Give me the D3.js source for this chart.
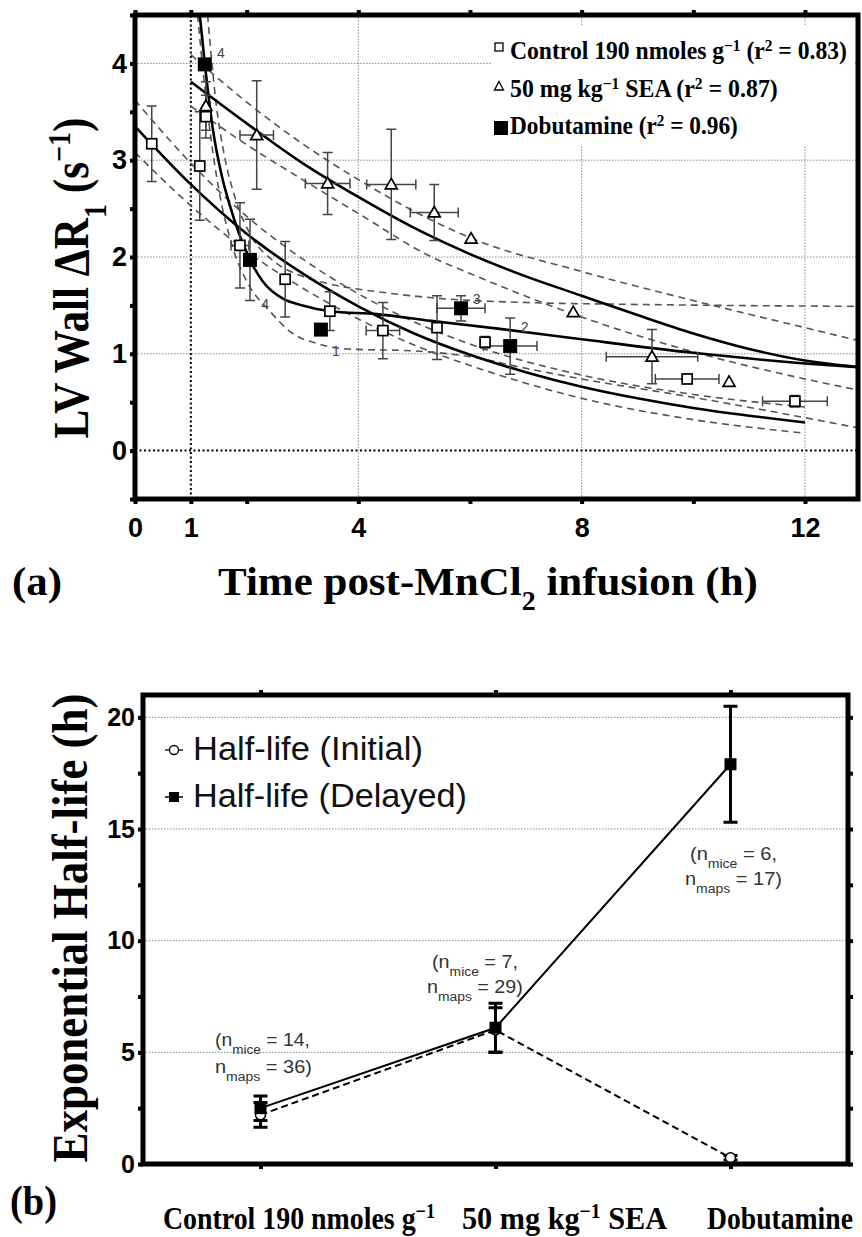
<!DOCTYPE html>
<html><head><meta charset="utf-8">
<script src="https://cdn.jsdelivr.net/npm/d3@7/dist/d3.min.js"></script>
<style>body{margin:0;background:#fff;}svg{display:block;}</style>
</head><body>
<svg id="chart" width="862" height="1237"></svg>
<script>
// ================= Panel (a) data =================
const ctrlTime = [0.3, 1.16, 1.27, 1.88, 2.69, 3.49, 4.44, 5.41, 6.27, 9.89, 11.82];
const ctrlVal  = [3.17, 2.94, 3.45, 2.12, 1.77, 1.44, 1.24, 1.27, 1.12, 0.74, 0.51];
const ctrlErrY = [0.39, 0.56, 0.22, 0.44, 0.39, 0.2, 0.29, 0.33, 0.06, 0, 0.06];
const ctrlErrX = [0, 0, 0, 0.16, 0, 0, 0.3, 0, 0, 0.57, 0.58];

const seaTime = [1.27, 2.18, 3.45, 4.59, 5.36, 6.02, 7.85, 9.26, 10.64];
const seaVal  = [3.56, 3.26, 2.76, 2.75, 2.46, 2.19, 1.43, 0.97, 0.71];
const seaErrY = [0.25, 0.56, 0.32, 0.57, 0.29, 0, 0, 0.28, 0];
const seaErrX = [0, 0.3, 0.4, 0.44, 0.43, 0, 0, 0.82, 0];

const dobTime = [1.25, 2.06, 3.33, 5.84, 6.72];
const dobVal  = [3.99, 1.97, 1.25, 1.47, 1.08];
const dobErrY = [0, 0.42, 0, 0.13, 0.29];
const dobErrX = [0, 0, 0, 0.43, 0.48];

// fitted curves
const ctrlFitT = [0, 1, 2, 3, 4, 5, 6, 7, 8, 9, 10, 11, 12];
const ctrlFitV = [3.35, 2.75, 2.24, 1.83, 1.49, 1.21, 0.99, 0.81, 0.66, 0.54, 0.44, 0.36, 0.29];
const seaFitT  = [1, 2, 3, 4, 5, 6, 7, 8, 9, 10, 11, 12, 13];
const seaFitV  = [3.81, 3.38, 2.97, 2.62, 2.3, 2.03, 1.8, 1.6, 1.4, 1.21, 1.05, 0.93, 0.86];
const dobFitT  = [1.16, 1.25, 1.4, 1.55, 1.7, 2.06, 2.3, 2.65, 3, 3.5, 4.33, 5.3, 6.5, 8, 10, 12, 13];
const dobFitV  = [4.5, 4.0, 3.3, 2.85, 2.53, 1.97, 1.74, 1.57, 1.5, 1.44, 1.41, 1.34, 1.26, 1.15, 1.01, 0.9, 0.86];

// confidence bands (dashed)
const ctrlBandT   = [0, 1, 2, 3, 4, 5, 6, 8, 10, 12];
const ctrlBandUpV = [3.62, 2.97, 2.42, 1.98, 1.62, 1.33, 1.1, 0.78, 0.58, 0.45];
const ctrlBandLoV = [3.08, 2.53, 2.06, 1.68, 1.36, 1.09, 0.88, 0.54, 0.32, 0.18];
const seaBandT    = [1, 2, 3, 4, 5.28, 6, 8, 10, 12, 13];
const seaBandUpV  = [4.09, 3.6, 3.17, 2.8, 2.39, 2.2, 1.85, 1.55, 1.27, 1.13];
const seaBandLoV  = [3.56, 3.16, 2.8, 2.45, 2.01, 1.83, 1.38, 1.02, 0.74, 0.62];
const dobBandUpT  = [1.3, 1.45, 1.6, 1.8, 2.1, 2.5, 3, 3.5, 4.5, 5.5, 7, 9, 13];
const dobBandUpV  = [4.5, 3.6, 3.05, 2.6, 2.2, 1.95, 1.8, 1.72, 1.63, 1.57, 1.53, 1.51, 1.49];
const dobBandLoT  = [1.12, 1.3, 1.5, 1.75, 2.05, 2.4, 2.8, 3.3, 3.8, 5, 6, 7, 8, 10, 12, 13];
const dobBandLoV  = [4.5, 3.5, 2.7, 2.1, 1.7, 1.45, 1.22, 1.1, 1.05, 1.03, 0.97, 0.85, 0.74, 0.55, 0.34, 0.23];

const curveLabelText = ["4", "4", "1", "3", "2"];
const curveLabelT = [1.54, 2.33, 3.6, 6.12, 6.98];
const curveLabelV = [4.11, 1.51, 1.03, 1.57, 1.28];

const xTicksA = [0, 1, 2, 4, 6, 8, 10, 12];
const xTickLabelsA = [0, 1, 4, 8, 12];
const yTicksA = [-0.5, 0, 0.5, 1, 1.5, 2, 2.5, 3, 3.5, 4, 4.5];
const yTickLabelsA = [0, 1, 2, 3, 4];
const gridXA = [4, 8, 12];
const gridYA = [1, 2, 3, 4];
const legendA = ["Control 190 nmoles g⁻¹ (r² = 0.83)", "50 mg kg⁻¹ SEA (r² = 0.87)", "Dobutamine (r² = 0.96)"];

// ================= Panel (b) data =================
const categories = ["Control 190 nmoles g⁻¹", "50 mg kg⁻¹ SEA", "Dobutamine"];
const initialHalfLife = [2.2, 6.0, 0.28];
const initialErr      = [0.55, 1.0, 0.1];
const delayedHalfLife = [2.5, 6.1, 17.9];
const delayedErr      = [0.55, 1.1, 2.6];
const sampleNotes = [["(n{mice} = 14,", "n{maps} = 36)"], ["(n{mice} = 7,", "n{maps} = 29)"], ["(n{mice} = 6,", "n{maps} = 17)"]];
const yTicksB = [0, 2.5, 5, 7.5, 10, 12.5, 15, 17.5, 20];
const yTickLabelsB = [0, 5, 10, 15, 20];
const gridYB = [5, 10, 15, 20];
const legendB = ["Half-life (Initial)", "Half-life (Delayed)"];

// ================= helpers =================
const SERIF = "'Liberation Serif','Times New Roman',serif";
const SANS = "'Liberation Sans',Arial,sans-serif";
const svg = d3.select('#chart');
svg.append('rect').attr('width', 862).attr('height', 1237).attr('fill', '#fff');
const defs = svg.append('defs');

function rich(t, str) {
  const re = /\{([^}]+)\}|([⁻¹²]+)|([₁₂]+)/g;
  const supMap = {'⁻': '−', '¹': '1', '²': '2'}, subMap = {'₁': '1', '₂': '2'};
  let last = 0, m;
  while ((m = re.exec(str))) {
    if (m.index > last) t.append('tspan').text(str.slice(last, m.index));
    if (m[1]) t.append('tspan').attr('baseline-shift', 'sub').attr('font-size', '70%').text(m[1]);
    else if (m[2]) t.append('tspan').attr('baseline-shift', 'super').attr('font-size', '65%').text([...m[2]].map(c => supMap[c]).join(''));
    else t.append('tspan').attr('baseline-shift', 'sub').attr('font-size', '65%').text([...m[3]].map(c => subMap[c]).join(''));
    last = re.lastIndex;
  }
  if (last < str.length) t.append('tspan').text(str.slice(last));
  return t;
}
function hText(parent, str, x, y, o) {
  const g = parent.append('g');
  const t = g.append('text').attr('font-family', o.family).attr('font-size', o.size)
    .attr('font-weight', o.weight || 'normal').attr('fill', o.fill || '#000');
  rich(t, str);
  const bb = t.node().getBBox();
  const k = o.width ? o.width / bb.width : 1;
  const off = o.anchor === 'middle' ? -bb.width / 2 : (o.anchor === 'end' ? -bb.width : 0);
  t.attr('x', off - bb.x);
  g.attr('transform', `translate(${x},${y}) scale(${k},1)`);
  return g;
}
function vText(parent, str, baseX, cy, o) {
  const g = parent.append('g');
  const t = g.append('text').attr('font-family', o.family).attr('font-size', o.size)
    .attr('font-weight', o.weight || 'normal').attr('fill', o.fill || '#000');
  rich(t, str);
  const bb = t.node().getBBox();
  t.attr('x', -bb.width / 2 - bb.x);
  g.attr('transform', `translate(${baseX},${cy}) rotate(-90) scale(${o.len / bb.width},${o.sy})`);
  return g;
}
const pairs = (T, V) => T.map((t, i) => [t, V[i]]);
function styleAxis(g, size, weight, family) {
  g.select('.domain').remove();
  g.selectAll('.tick line').attr('stroke', '#000').attr('stroke-width', 4);
  g.selectAll('.tick text').attr('font-size', size).attr('font-weight', weight).attr('font-family', family).attr('fill', '#000');
}

// ================= Panel (a) =================
const xA = d3.scaleLinear().domain([0, 12.95]).range([135, 858]);
const yA = d3.scaleLinear().domain([-0.5, 4.5]).range([499, 15]);
defs.append('clipPath').attr('id', 'clipA').append('rect')
  .attr('x', xA.range()[0]).attr('y', yA.range()[1]).attr('width', xA.range()[1] - xA.range()[0]).attr('height', yA.range()[0] - yA.range()[1]);
const gA = svg.append('g');
const plotA = gA.append('g').attr('clip-path', 'url(#clipA)');

plotA.selectAll('.gy').data(gridYA).join('line')
  .attr('x1', xA.range()[0]).attr('x2', xA.range()[1]).attr('y1', d => yA(d)).attr('y2', d => yA(d))
  .attr('stroke', '#8a8a8a').attr('stroke-width', 1).attr('stroke-dasharray', '1.5,1.5');
plotA.selectAll('.gx').data(gridXA).join('line')
  .attr('y1', yA.range()[0]).attr('y2', yA.range()[1]).attr('x1', d => xA(d)).attr('x2', d => xA(d))
  .attr('stroke', '#8a8a8a').attr('stroke-width', 1).attr('stroke-dasharray', '1.5,1.5');
plotA.append('line').attr('x1', xA(1)).attr('x2', xA(1)).attr('y1', yA.range()[0]).attr('y2', yA.range()[1])
  .attr('stroke', '#000').attr('stroke-width', 2).attr('stroke-dasharray', '2,2.5');
plotA.append('line').attr('x1', xA.range()[0]).attr('x2', xA.range()[1]).attr('y1', yA(0)).attr('y2', yA(0))
  .attr('stroke', '#000').attr('stroke-width', 2).attr('stroke-dasharray', '2,2.5');

const lineA = d3.line().x(d => xA(d[0])).y(d => yA(d[1])).curve(d3.curveMonotoneX);
const bands = [pairs(ctrlBandT, ctrlBandUpV), pairs(ctrlBandT, ctrlBandLoV), pairs(seaBandT, seaBandUpV),
  pairs(seaBandT, seaBandLoV), pairs(dobBandUpT, dobBandUpV), pairs(dobBandLoT, dobBandLoV)];
plotA.selectAll('.band').data(bands).join('path').attr('d', lineA).attr('fill', 'none')
  .attr('stroke', '#555').attr('stroke-width', 1.6).attr('stroke-dasharray', '7,5');
const fits = [pairs(ctrlFitT, ctrlFitV), pairs(seaFitT, seaFitV), pairs(dobFitT, dobFitV)];
plotA.selectAll('.fit').data(fits).join('path').attr('d', lineA).attr('fill', 'none')
  .attr('stroke', '#000').attr('stroke-width', 2.6);

plotA.selectAll('.clab').data(curveLabelText).join('text')
  .attr('x', (d, i) => xA(curveLabelT[i])).attr('y', (d, i) => yA(curveLabelV[i])).attr('dy', '0.35em')
  .attr('text-anchor', 'middle').attr('font-family', SANS).attr('font-size', 14).attr('fill', '#444').text(d => d);

function errBars(g, T, V, EY, EX) {
  const c = 5;
  T.forEach((t, i) => {
    const x = xA(t), y = yA(V[i]);
    if (EY[i] > 0) {
      const y1 = yA(V[i] + EY[i]), y2 = yA(V[i] - EY[i]);
      g.append('path').attr('d', `M${x},${y1}V${y2}M${x - c},${y1}H${x + c}M${x - c},${y2}H${x + c}`);
    }
    if (EX[i] > 0) {
      const x1 = xA(t - EX[i]), x2 = xA(t + EX[i]);
      g.append('path').attr('d', `M${x1},${y}H${x2}M${x1},${y - c}V${y + c}M${x2},${y - c}V${y + c}`);
    }
  });
}
const ebA = plotA.append('g').attr('stroke', '#444').attr('stroke-width', 1.5).attr('fill', 'none');
errBars(ebA, ctrlTime, ctrlVal, ctrlErrY, ctrlErrX);
errBars(ebA, seaTime, seaVal, seaErrY, seaErrX);
errBars(ebA, dobTime, dobVal, dobErrY, dobErrX);

plotA.selectAll('.ctrl').data(ctrlTime).join('rect')
  .attr('x', d => xA(d) - 5).attr('y', (d, i) => yA(ctrlVal[i]) - 5).attr('width', 10).attr('height', 10)
  .attr('fill', '#fff').attr('stroke', '#000').attr('stroke-width', 1.7);
plotA.selectAll('.sea').data(seaTime).join('path')
  .attr('d', (d, i) => `M${xA(d)},${yA(seaVal[i]) - 6}L${xA(d) + 6},${yA(seaVal[i]) + 4.5}L${xA(d) - 6},${yA(seaVal[i]) + 4.5}Z`)
  .attr('fill', '#fff').attr('stroke', '#000').attr('stroke-width', 1.7);
plotA.selectAll('.dob').data(dobTime).join('rect')
  .attr('x', d => xA(d) - 7).attr('y', (d, i) => yA(dobVal[i]) - 7).attr('width', 14).attr('height', 14).attr('fill', '#000');

// axes (a)
const axBotA = gA.append('g').attr('transform', `translate(0,${yA.range()[0]})`)
  .call(d3.axisBottom(xA).tickValues(xTicksA).tickSize(5).tickPadding(14).tickFormat(d => xTickLabelsA.includes(d) ? d : ''));
styleAxis(axBotA, 27, 'bold', SANS);
const axTopA = gA.append('g').attr('transform', `translate(0,${yA.range()[1]})`)
  .call(d3.axisTop(xA).tickValues(xTicksA).tickSize(5).tickFormat(''));
styleAxis(axTopA, 10, 'normal', SANS);
const axLeftA = gA.append('g').attr('transform', `translate(${xA.range()[0]},0)`)
  .call(d3.axisLeft(yA).tickValues(yTicksA).tickSize(5).tickPadding(3).tickFormat(d => yTickLabelsA.includes(d) ? d : ''));
styleAxis(axLeftA, 27, 'bold', SANS);

gA.append('rect').attr('x', xA.range()[0]).attr('y', yA.range()[1]).attr('width', xA.range()[1] - xA.range()[0])
  .attr('height', yA.range()[0] - yA.range()[1]).attr('fill', 'none').attr('stroke', '#000').attr('stroke-width', 5);

// legend (a)
const legA = gA.append('g');
legA.append('rect').attr('x', 492).attr('y', 26).attr('width', 362).attr('height', 120).attr('fill', '#fff');
legA.append('rect').attr('x', 495).attr('y', 43).attr('width', 8).attr('height', 8).attr('fill', '#fff').attr('stroke', '#000').attr('stroke-width', 1.3);
legA.append('path').attr('d', 'M499,81.5L503.5,90L494.5,90Z').attr('fill', '#fff').attr('stroke', '#000').attr('stroke-width', 1.3);
legA.append('rect').attr('x', 494).attr('y', 121).attr('width', 14).attr('height', 14).attr('fill', '#000');
const legAW = [337, 268, 228], legAY = [59, 97, 134];
legendA.forEach((s, i) => hText(legA, s, 510, legAY[i], {family: SERIF, size: 25, weight: 'bold', width: legAW[i]}));

// titles (a)
vText(gA, "LV Wall ΔR₁ (s⁻¹)", 88, 278, {family: SERIF, size: 40, weight: 'bold', len: 321, sy: 1.25});
hText(gA, "Time post-MnCl₂ infusion (h)", 218, 595, {family: SERIF, size: 41, weight: 'bold', width: 540});
hText(gA, "(a)", 12, 595, {family: SERIF, size: 40, weight: 'bold', width: 50});

// ================= Panel (b) =================
const xB = d3.scalePoint().domain(categories).range([143, 848]).padding(0.5);
const yB = d3.scaleLinear().domain([0, 21]).range([1164, 695]);
const gB = svg.append('g');
gB.selectAll('.gyb').data(gridYB).join('line')
  .attr('x1', xB.range()[0]).attr('x2', xB.range()[1]).attr('y1', d => yB(d)).attr('y2', d => yB(d))
  .attr('stroke', '#8a8a8a').attr('stroke-width', 1).attr('stroke-dasharray', '1.5,1.5');

const lineB = d3.line().x((d, i) => xB(categories[i])).y(d => yB(d));
gB.append('path').datum(initialHalfLife).attr('d', lineB).attr('fill', 'none').attr('stroke', '#000')
  .attr('stroke-width', 2).attr('stroke-dasharray', '7,4');
gB.append('path').datum(delayedHalfLife).attr('d', lineB).attr('fill', 'none').attr('stroke', '#000').attr('stroke-width', 2);

function errB(vals, errs) {
  const c = 7;
  const g = gB.append('g').attr('stroke', '#000').attr('stroke-width', 3).attr('fill', 'none');
  vals.forEach((v, i) => {
    const x = xB(categories[i]), y1 = yB(v + errs[i]), y2 = yB(v - errs[i]);
    g.append('path').attr('d', `M${x},${y1}V${y2}M${x - c},${y1}H${x + c}M${x - c},${y2}H${x + c}`);
  });
}
errB(initialHalfLife, initialErr);
errB(delayedHalfLife, delayedErr);
gB.selectAll('.ini').data(initialHalfLife).join('circle')
  .attr('cx', (d, i) => xB(categories[i])).attr('cy', d => yB(d)).attr('r', 5)
  .attr('fill', '#fff').attr('stroke', '#000').attr('stroke-width', 1.5);
gB.selectAll('.del').data(delayedHalfLife).join('rect')
  .attr('x', (d, i) => xB(categories[i]) - 6).attr('y', d => yB(d) - 6).attr('width', 12).attr('height', 12).attr('fill', '#000');

// axes (b)
const axLeftB = gB.append('g').attr('transform', `translate(${xB.range()[0]},0)`)
  .call(d3.axisLeft(yB).tickValues(yTicksB).tickSize(5).tickPadding(3).tickFormat(d => yTickLabelsB.includes(d) ? d : ''));
styleAxis(axLeftB, 25, 'bold', SANS);
const axRightB = gB.append('g').attr('transform', `translate(${xB.range()[1]},0)`)
  .call(d3.axisRight(yB).tickValues(yTicksB).tickSize(5).tickFormat(''));
styleAxis(axRightB, 10, 'normal', SANS);
const axTopB = gB.append('g').attr('transform', `translate(0,${yB.range()[1]})`)
  .call(d3.axisTop(xB).tickSize(5).tickFormat(''));
styleAxis(axTopB, 10, 'normal', SANS);
const axBotB = gB.append('g').attr('transform', `translate(0,${yB.range()[0]})`)
  .call(d3.axisBottom(xB).tickSize(5).tickFormat(''));
styleAxis(axBotB, 10, 'normal', SANS);
gB.append('rect').attr('x', xB.range()[0]).attr('y', yB.range()[1]).attr('width', xB.range()[1] - xB.range()[0])
  .attr('height', yB.range()[0] - yB.range()[1]).attr('fill', 'none').attr('stroke', '#000').attr('stroke-width', 5);

// legend (b)
const legB = gB.append('g');
legB.append('line').attr('x1', 165).attr('x2', 183).attr('y1', 750).attr('y2', 750).attr('stroke', '#000').attr('stroke-width', 1.3);
legB.append('circle').attr('cx', 174).attr('cy', 750).attr('r', 4.5).attr('fill', '#fff').attr('stroke', '#000').attr('stroke-width', 1.3);
legB.append('line').attr('x1', 165).attr('x2', 183).attr('y1', 797).attr('y2', 797).attr('stroke', '#000').attr('stroke-width', 1.5);
legB.append('rect').attr('x', 169).attr('y', 792).attr('width', 10).attr('height', 10).attr('fill', '#000');
hText(legB, legendB[0], 193, 760, {family: SANS, size: 34, width: 230, fill: '#111'});
hText(legB, legendB[1], 193, 807, {family: SANS, size: 34, width: 274, fill: '#111'});

// sample-size notes
const notePos = [[[215, 1046, 95], [215, 1073, 97]], [[432, 968, 86], [427, 993, 96]], [[690, 860, 87], [685, 885, 97]]];
sampleNotes.forEach((lines, i) => lines.forEach((s, j) => {
  const p = notePos[i][j];
  hText(gB, s, p[0], p[1], {family: SANS, size: 19, width: p[2], fill: '#333'});
}));

// titles (b)
vText(gB, "Exponential Half-life (h)", 87, 928, {family: SERIF, size: 40, weight: 'bold', len: 469, sy: 1.25});
const catLabelPos = [[163, 272], [462, 205], [707, 146]];
categories.forEach((c, i) => hText(gB, c, catLabelPos[i][0], 1229, {family: SERIF, size: 32, weight: 'bold', width: catLabelPos[i][1]}));
hText(gB, "(b)", 10, 1215, {family: SERIF, size: 42, weight: 'bold', width: 47});
</script>
</body></html>
